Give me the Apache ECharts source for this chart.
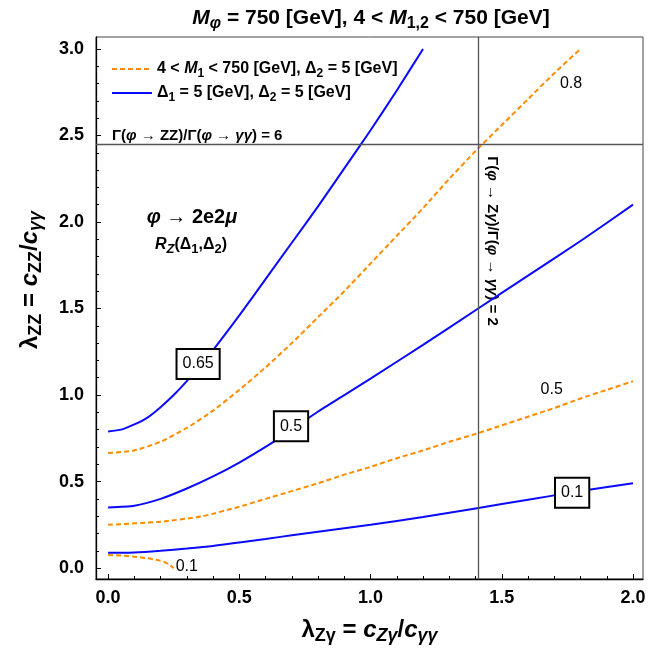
<!DOCTYPE html>
<html><head><meta charset="utf-8">
<script src="https://cdn.jsdelivr.net/npm/echarts@6/dist/echarts.min.js"></script>
<style>html,body{margin:0;padding:0;background:#fff}#c{width:668px;height:650px}</style>
</head><body><div id="c"></div>
<script>
// ---- data ----
const xMajorTicks = [0, 0.5, 1.0, 1.5, 2.0];
const yMajorTicks = [0, 0.5, 1.0, 1.5, 2.0, 2.5, 3.0];
const blue065 = [[0,0.79],[0.05,0.80],[0.1,0.83],[0.15,0.87],[0.2,0.93],[0.25,1.00],[0.3,1.08],[0.35,1.17],[0.4,1.26],[0.5,1.46],[0.6,1.67],[0.7,1.88],[0.8,2.09],[0.9,2.31],[1.0,2.53],[1.1,2.76],[1.2,3.0]];
const blue05 = [[0,0.35],[0.1,0.36],[0.2,0.40],[0.3,0.46],[0.4,0.53],[0.5,0.61],[0.6,0.70],[0.7,0.80],[0.8,0.905],[0.9,1.0],[1.0,1.095],[1.2,1.29],[1.4,1.49],[1.6,1.69],[1.8,1.89],[2.0,2.10]];
const blue01 = [[0,0.088],[0.1,0.09],[0.2,0.10],[0.3,0.113],[0.4,0.128],[0.5,0.148],[0.6,0.168],[0.7,0.19],[0.8,0.21],[0.9,0.23],[1.0,0.25],[1.2,0.295],[1.4,0.345],[1.6,0.395],[1.8,0.445],[2.0,0.49]];
const orange08 = [[0,0.665],[0.1,0.68],[0.2,0.73],[0.3,0.81],[0.4,0.91],[0.5,1.03],[0.6,1.16],[0.7,1.30],[0.8,1.45],[0.9,1.60],[1.0,1.76],[1.1,1.92],[1.2,2.08],[1.3,2.25],[1.4,2.41],[1.5,2.56],[1.6,2.71],[1.7,2.86],[1.8,3.0]];
const orange05 = [[0,0.25],[0.2,0.268],[0.36,0.30],[0.5,0.355],[0.6,0.40],[0.7,0.445],[0.8,0.49],[0.9,0.54],[1.0,0.585],[1.1,0.635],[1.2,0.68],[1.3,0.73],[1.4,0.775],[1.5,0.825],[1.6,0.875],[1.7,0.925],[1.8,0.98],[1.9,1.03],[2.0,1.08]];
const orange01 = [[0,0.075],[0.05,0.073],[0.1,0.066],[0.15,0.057],[0.19,0.046],[0.22,0.032],[0.25,0.0]];
const refRatioX = 1.414;  // Γ(φ→Zγ)/Γ(φ→γγ) = 2
const refRatioY = 2.45;   // Γ(φ→ZZ)/Γ(φ→γγ) = 6
// contour label anchors [x, y, text]
const boxedLabels = [[0.343, 1.18, '0.65'], [0.697, 0.819, '0.5'], [1.768, 0.435, '0.1']];
const plainLabels = [[1.764, 2.80, '0.8'], [1.69, 1.03, '0.5'], [0.30, 0.007, '0.1']];

// ---- styles ----
const FONT = '"Liberation Sans", Arial, sans-serif';
const BLUE = '#0a0aff';
const ORANGE = '#ff8c00';
const minorX = [], minorY = [];
for (let i = 0; i <= 20; i++) if (i % 5) minorX.push(+(i / 10).toFixed(1));
for (let i = 0; i <= 30; i++) if (i % 5) minorY.push(+(i / 10).toFixed(1));

function richSet(size, subRatio) {
  const ss = Math.round(size * (subRatio || 0.75));
  return {
    n: {fontSize: size, fontWeight: 'bold', fontFamily: FONT, color: '#000', lineHeight: size + 6},
    i: {fontSize: size, fontWeight: 'bold', fontStyle: 'italic', fontFamily: FONT, color: '#000', lineHeight: size + 6},
    s: {fontSize: ss, fontWeight: 'bold', fontFamily: FONT, color: '#000', verticalAlign: 'bottom', lineHeight: ss},
    si: {fontSize: ss, fontWeight: 'bold', fontStyle: 'italic', fontFamily: FONT, color: '#000', verticalAlign: 'bottom', lineHeight: ss}
  };
}
function zrRich(size, subRatio) {
  const r = richSet(size, subRatio), out = {};
  for (const k in r) { out[k] = Object.assign({}, r[k], {fill: '#000'}); delete out[k].color; }
  return out;
}

const lineSeries = (name, data, color, dashed) => ({
  name, type: 'line', data, symbol: 'none', smooth: 0.2, silent: true,
  lineStyle: {color, width: 2, type: dashed ? [5, 3] : 'solid'},
  itemStyle: {color}, z: 3
});

const series = [
  lineSeries('orange', orange08, ORANGE, true),
  lineSeries('orange', orange05, ORANGE, true),
  lineSeries('orange', orange01, ORANGE, true),
  lineSeries('blue', blue065, BLUE, false),
  lineSeries('blue', blue05, BLUE, false),
  lineSeries('blue', blue01, BLUE, false),
  {
    name: 'ref', type: 'line', data: [], silent: true,
    markLine: {
      symbol: 'none', silent: true, label: {show: false},
      lineStyle: {color: '#555', width: 1.3, type: 'solid'},
      data: [{xAxis: refRatioX}, {yAxis: refRatioY}]
    }
  },
  {
    name: 'labels', type: 'scatter', data: [], silent: true, z: 10,
    markPoint: {
      symbol: 'rect', symbolSize: 1, itemStyle: {color: 'rgba(0,0,0,0)'}, silent: true,
      data: boxedLabels.map(d => ({coord: [d[0], d[1]], name: d[2],
        label: {show: true, position: 'inside', formatter: d[2], fontSize: 16, fontFamily: FONT, color: '#000',
          backgroundColor: '#fff', borderColor: '#000', borderWidth: 2, padding: [6, 5, 4, 5], lineHeight: 18}}))
        .concat(plainLabels.map(d => ({coord: [d[0], d[1]], name: d[2],
        label: {show: true, position: 'inside', formatter: d[2], fontSize: 16, fontFamily: FONT, color: '#000'}})))
    }
  }
];

const legendText = {
  orange: '{n|4 < }{i|M}{s|1}{n| < 750 [GeV], Δ}{s|2}{n| = 5 [GeV]}',
  blue: '{n|Δ}{s|1}{n| = 5 [GeV], Δ}{s|2}{n| = 5 [GeV]}'
};

const option = {
  backgroundColor: '#fff',
  animation: false,
  grid: {left: 96, right: 25, top: 37, bottom: 66, show: true, borderColor: '#444', borderWidth: 1},
  legend: {
    data: ['orange', 'blue'], orient: 'vertical', left: 106, top: 56,
    itemWidth: 40, itemHeight: 14, itemGap: 5, selectedMode: false,
    itemStyle: {opacity: 0},
    formatter: n => legendText[n],
    textStyle: {fontSize: 16, fontWeight: 'bold', fontFamily: FONT, color: '#000', rich: richSet(16, 0.72)}
  },
  xAxis: [
    {
      type: 'value', min: -0.046, max: 2.038, position: 'bottom',
      name: '{n|λ}{s|Zγ}{n| = }{i|c}{si|Zγ}{n|/}{i|c}{si|γγ}', nameLocation: 'middle', nameGap: 36,
      nameTextStyle: {fontSize: 24, fontWeight: 'bold', fontFamily: FONT, color: '#000', rich: richSet(24, 0.75)},
      axisLine: {show: true, onZero: false, lineStyle: {color: '#000', width: 1.3}},
      axisTick: {show: true, inside: true, length: 5, customValues: xMajorTicks, lineStyle: {color: '#000', width: 1}},
      axisLabel: {show: true, customValues: xMajorTicks, margin: 10, formatter: v => v.toFixed(1),
        fontSize: 18, fontWeight: 'bold', fontFamily: FONT, color: '#000'},
      splitLine: {show: false}
    },
    {
      type: 'value', min: -0.046, max: 2.038, position: 'bottom',
      axisLine: {show: false, onZero: false},
      axisTick: {show: true, inside: true, length: 3, customValues: minorX, lineStyle: {color: '#000', width: 1}},
      axisLabel: {show: false}, splitLine: {show: false}
    }
  ],
  yAxis: [
    {
      type: 'value', min: -0.063, max: 3.069, position: 'left',
      axisLine: {show: true, onZero: false, lineStyle: {color: '#000', width: 1.3}},
      axisTick: {show: true, inside: true, length: 5, customValues: yMajorTicks, lineStyle: {color: '#000', width: 1}},
      axisLabel: {show: true, customValues: yMajorTicks, margin: 12, formatter: v => v.toFixed(1),
        fontSize: 18, fontWeight: 'bold', fontFamily: FONT, color: '#000'},
      splitLine: {show: false}
    },
    {
      type: 'value', min: -0.063, max: 3.069, position: 'left',
      axisLine: {show: false, onZero: false},
      axisTick: {show: true, inside: true, length: 3, customValues: minorY, lineStyle: {color: '#000', width: 1}},
      axisLabel: {show: false}, splitLine: {show: false}
    }
  ],
  series: series,
  graphic: [
    {type: 'text', silent: true, style: {
      text: '{i|M}{si|φ}{n| = 750 [GeV], 4 < }{i|M}{s|1,2}{n| < 750 [GeV]}', rich: zrRich(21, 0.75),
      x: 371, y: 18, align: 'center', verticalAlign: 'middle', fill: '#000'}},
    {type: 'text', silent: true, x: 30, y: 280, rotation: Math.PI / 2, style: {
      text: '{n|λ}{s|ZZ}{n| = }{i|c}{s|ZZ}{n|/}{i|c}{si|γγ}', rich: zrRich(24, 0.75),
      x: 0, y: 0, align: 'center', verticalAlign: 'middle', fill: '#000'}},
    {type: 'text', silent: true, style: {
      text: '{i|φ}{n| → 2e2}{i|μ}', rich: zrRich(20),
      x: 192, y: 217, align: 'center', verticalAlign: 'middle', fill: '#000'}},
    {type: 'text', silent: true, style: {
      text: '{i|R}{si|Z}{n|(Δ}{s|1}{n|,Δ}{s|2}{n|)}', rich: zrRich(16, 0.8),
      x: 191, y: 245, align: 'center', verticalAlign: 'middle', fill: '#000'}},
    {type: 'text', silent: true, style: {
      text: '{n|Γ(}{i|φ}{n| → ZZ)/Γ(}{i|φ}{n| → }{i|γγ}{n|) = 6}', rich: zrRich(15),
      x: 112, y: 136, align: 'left', verticalAlign: 'middle', fill: '#000'}},
    {type: 'text', silent: true, x: 492, y: 241, rotation: -Math.PI / 2, style: {
      text: '{n|Γ(}{i|φ}{n| → Z}{i|γ}{n|)/Γ(}{i|φ}{n| → }{i|γγ}{n|) = 2}', rich: zrRich(15),
      x: 0, y: 0, align: 'center', verticalAlign: 'middle', fill: '#000'}}
  ]
};

const chart = echarts.init(document.getElementById('c'), null, {renderer: 'canvas'});
chart.setOption(option);
</script>
</body></html>
